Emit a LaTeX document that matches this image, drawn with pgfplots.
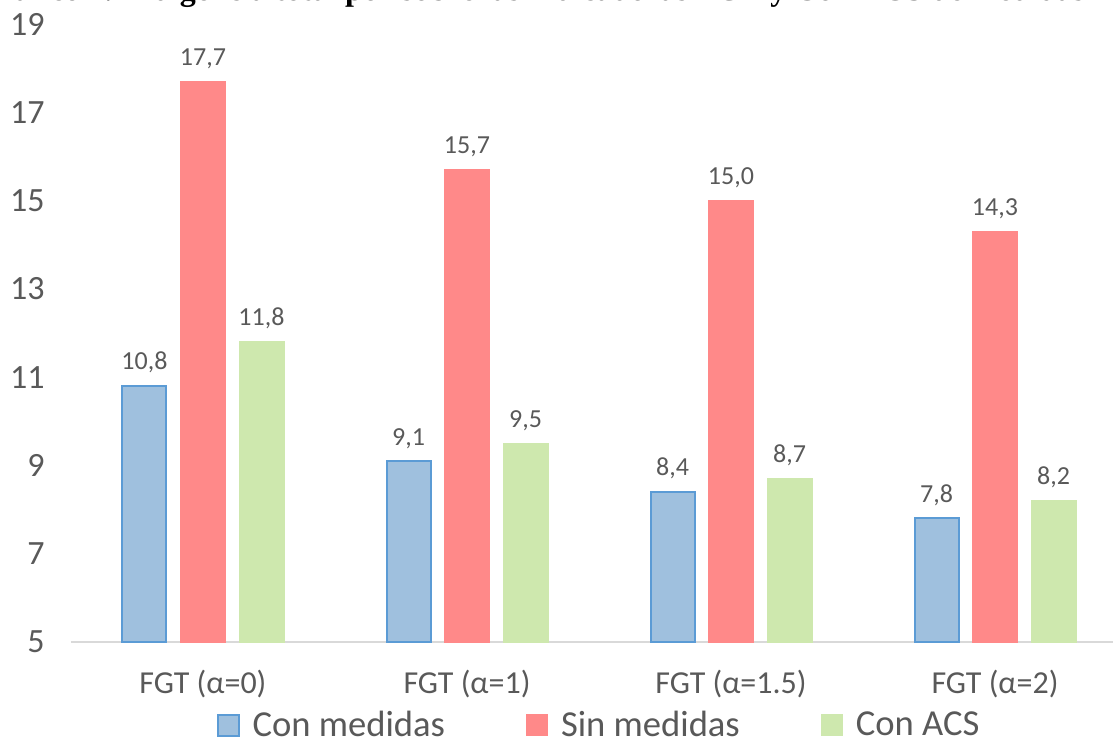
\documentclass[border=0pt]{standalone}
\usepackage{pgfplots}
\pgfplotsset{compat=1.18}
\usepackage{fontspec}
\setmainfont{Carlito}
\newfontfamily\titlefont{Liberation Serif}

\definecolor{txt}{HTML}{595959}
\definecolor{bluefill}{HTML}{9FC0DE}
\definecolor{blueedge}{HTML}{5B9BD5}
\definecolor{redfill}{HTML}{FF8989}
\definecolor{greenfill}{HTML}{CEE8AE}
\definecolor{axisgray}{HTML}{D9D9D9}

\begin{document}
\begin{tikzpicture}[x=1pt,y=1pt]
\clip (-35.5,-51) rectangle (521,321);
\begin{axis}[
  scale only axis,
  width=528pt, height=309pt,
  xmin=-0.5, xmax=3.5, ymin=5, ymax=19,
  ybar,
  axis lines=left,
  axis line style={-},
  y axis line style={draw=none},
  x axis line style={axisgray, line width=1pt},
  major tick length=0pt,
  ytick={5,7,...,19},
  xtick={0,1,2,3},
  xticklabels={FGT (α=0), FGT (α=1), FGT (α=1.5), FGT (α=2)},
  /pgf/number format/assume math mode=true,
  yticklabel style={anchor=east, inner sep=0pt, xshift=-13pt,
    font=\fontsize{17}{20}\selectfont, text=txt},
  xticklabel style={anchor=base, inner sep=0pt, yshift=-25.5pt,
    font=\fontsize{16}{19}\selectfont, text=txt},
  nodes near coords,
  nodes near coords style={
    /pgf/number format/fixed, /pgf/number format/fixed zerofill,
    /pgf/number format/precision=1, /pgf/number format/use comma,
    anchor=base, inner sep=0pt, yshift=8pt,
    font=\fontsize{13}{15}\selectfont, text=txt},
  legend columns=3,
  legend style={at={(0.5,0)}, anchor=center, yshift=-41.5pt, draw=none,
    font=\fontsize{18.3}{21}\selectfont, text=txt,
    nodes={inner sep=1pt},
    /tikz/every odd column/.append style={column sep=5.5pt},
    /tikz/every even column/.append style={column sep=39.5pt}},
  legend image code/.code={\path[#1] (0pt,-5.25pt) rectangle (10.5pt,5.25pt);},
]
\addplot[fill=bluefill, draw=blueedge, line width=1pt, bar width=22pt, bar shift=-29.25pt]
  coordinates {(0,10.8) (1,9.1) (2,8.4) (3,7.8)};
\addplot[fill=redfill, draw=redfill, line width=0.5pt, bar width=22.5pt, bar shift=0pt]
  coordinates {(0,17.7) (1,15.7) (2,15.0) (3,14.3)};
\addplot[fill=greenfill, draw=greenfill, line width=0.5pt, bar width=22.5pt, bar shift=29.25pt]
  coordinates {(0,11.8) (1,9.5) (2,8.7) (3,8.2)};
\legend{Con medidas, Sin medidas, Con ACS}
\end{axis}
\node[overlay, anchor=base west, inner sep=0pt, font=\titlefont\bfseries\fontsize{16}{18}\selectfont]
  at (-48,320.5) {Gráfico 1. Indigencia total por sobre las indicadoras FGT y Con ACS de medidas};
\end{tikzpicture}
\end{document}
